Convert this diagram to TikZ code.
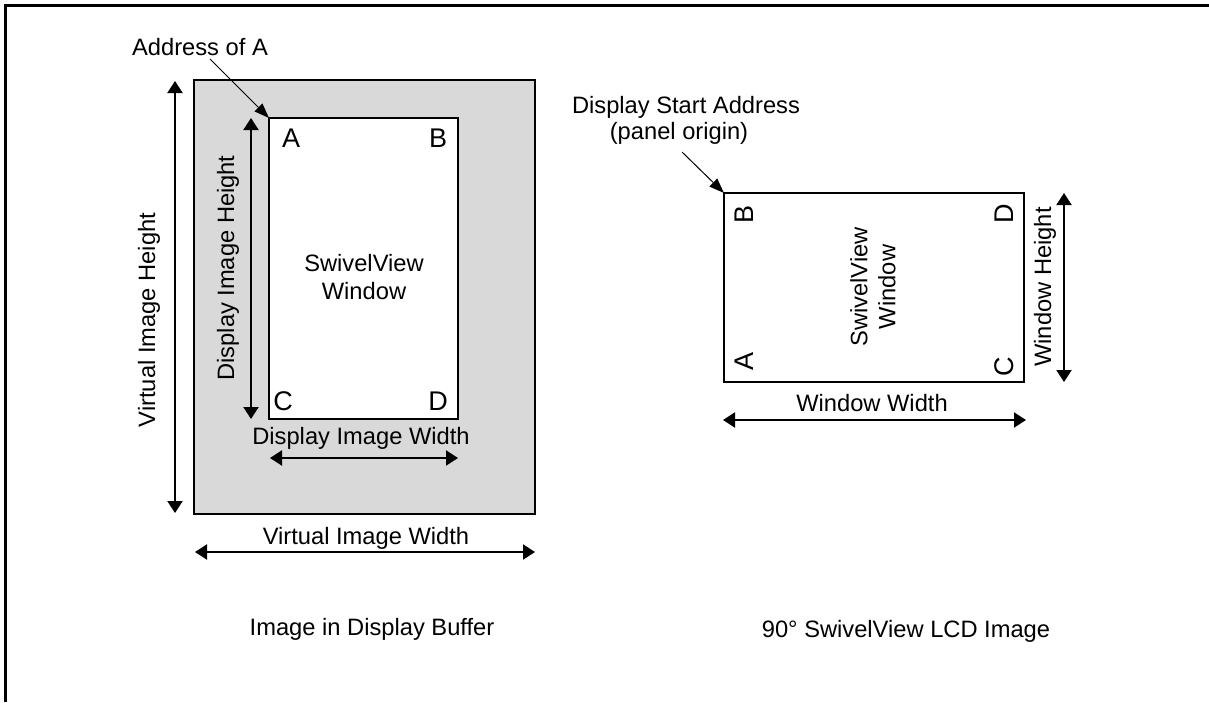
\documentclass[tikz,border=0pt]{standalone}
\usepackage{fontspec}
\setmainfont{Liberation Sans}
\usetikzlibrary{arrows.meta}
\definecolor{bufgray}{RGB}{217,217,217}
\begin{document}
\begin{tikzpicture}[x=1pt,y=-1pt,
  lbl/.style={font=\fontsize{23.7}{28}\selectfont, inner sep=0pt},
  corner/.style={font=\fontsize{27}{30}\selectfont, inner sep=0pt},
  box/.style={draw, line width=2pt},
  dimarrow/.style={line width=2pt, {Triangle[length=12pt,width=15pt]}-{Triangle[length=12pt,width=15pt]}},
  lead/.style={line width=1pt, -{Triangle[length=15pt,width=11pt]}}]
\useasboundingbox (0,0) rectangle (1209,702);
% frame
\draw[line width=3pt] (5,702) -- (5,5) -- (1209,5);

% left: buffer
\draw[box, fill=bufgray] (194,80) rectangle (535,514);
\draw[box, fill=white] (269,118) rectangle (458,419);
\coordinate (cA) at (269,118);
\coordinate (vh1) at (175,81);   \coordinate (vh2) at (175,513);
\coordinate (dh1) at (251,118);  \coordinate (dh2) at (251,419);
\coordinate (dw1) at (270,458);  \coordinate (dw2) at (458,458);
\coordinate (vw1) at (195,552);  \coordinate (vw2) at (535,552);
\draw[dimarrow] (vh1) -- (vh2);
\draw[dimarrow] (dh1) -- (dh2);
\draw[dimarrow] (dw1) -- (dw2);
\draw[dimarrow] (vw1) -- (vw2);

\node[lbl, anchor=base] (addrA) at (200,55) {Address of A};
\coordinate (addrS) at (210,59);
\draw[lead] (addrS) -- (cA);

\node[corner, anchor=base] (lA) at (291,147) {A};
\node[corner, anchor=base] (lB) at (438,147) {B};
\node[corner, anchor=base] (lC) at (283,410) {C};
\node[corner, anchor=base] (lD) at (438,410) {D};
\node[lbl, align=center] (swl) at (364,277) {SwivelView\\Window};
\node[lbl, rotate=90, anchor=base] (vihl) at (155,320) {Virtual Image Height};
\node[lbl, rotate=90, anchor=base] (dihl) at (234,268) {Display Image Height};
\node[lbl, anchor=base] (diwl) at (361,444) {Display Image Width};
\node[lbl, anchor=base] (viwl) at (366,544) {Virtual Image Width};
\node[lbl, anchor=base] (capl) at (372,635) {Image in Display Buffer};

% right: LCD
\draw[box] (724,193) rectangle (1024,382);
\coordinate (cB) at (724,193);
\coordinate (wh1) at (1064,193); \coordinate (wh2) at (1064,382);
\coordinate (ww1) at (723,420);  \coordinate (ww2) at (1026,420);
\draw[dimarrow] (wh1) -- (wh2);
\draw[dimarrow] (ww1) -- (ww2);

\node[lbl, anchor=base] (dsa) at (686,113) {Display Start Address};
\node[lbl, anchor=base] (po) at (679,139) {(panel origin)};
\coordinate (dsaS) at (682,152);
\draw[lead] (dsaS) -- (cB);

\node[corner, rotate=90, anchor=base] (rB) at (753,214) {B};
\node[corner, rotate=90, anchor=base] (rA) at (753,361) {A};
\node[corner, rotate=90, anchor=base] (rD) at (1013,214) {D};
\node[corner, rotate=90, anchor=base] (rC) at (1013,367) {C};
\node[lbl, rotate=90, align=center] (swr) at (873,287) {SwivelView\\Window};
\node[lbl, rotate=90, anchor=base] (whl) at (1051,287) {Window Height};
\node[lbl, anchor=base] (wwl) at (872,411) {Window Width};
\node[lbl, anchor=base] (capr) at (906,637) {90° SwivelView LCD Image};
\end{tikzpicture}
\end{document}
